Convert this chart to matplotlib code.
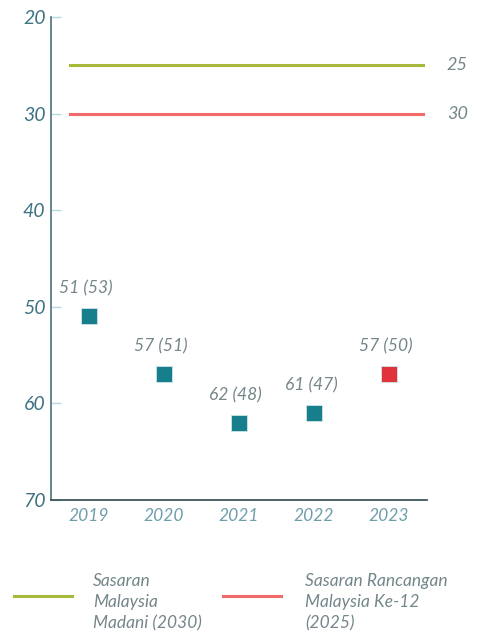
import matplotlib
matplotlib.use("Agg")
import matplotlib.pyplot as plt
from matplotlib.lines import Line2D
from matplotlib.transforms import blended_transform_factory

# Data
years = [2019, 2020, 2021, 2022, 2023]
values = [51, 57, 62, 61, 57]
prev = [53, 51, 48, 47, 50]
colors = ['#167f8b', '#167f8b', '#167f8b', '#167f8b', '#e0323a']
target_madani = 25
target_rmk12 = 30

plt.rcParams['font.family'] = ['Lato', 'DejaVu Sans']
txt = dict(style='italic', weight='normal', color='#74868a')

fig = plt.figure(figsize=(4.78, 6.35), dpi=100)
ax = fig.add_axes([0.1067, 0.2126, 0.7866, 0.7606])

# Garis sasaran
ax.axhline(target_madani, xmin=0.05, xmax=0.99, color='#a8b83b', lw=2.2)
ax.axhline(target_rmk12, xmin=0.05, xmax=0.99, color='#f26a6a', lw=2.2)

trans = blended_transform_factory(ax.transAxes, ax.transData)
for v in [target_madani, target_rmk12]:
    ax.text(1.053, v, str(v), transform=trans, ha='left', va='center',
            fontsize=13, **txt)

# Titik
for x, y, p, c in zip(years, values, prev, colors):
    ax.plot(x, y, marker='s', ms=12, color=c, mec='#cfe6e8', mew=0.6, ls='none')
    ax.annotate(f"{y} ({p})", (x, y), xytext=(-2, 20), textcoords='offset points',
                ha='center', va='center', fontsize=12.5, **txt)

ax.set_xlim(2018.5, 2023.51)
ax.set_ylim(70, 20)
ax.set_yticks([20, 30, 40, 50, 60, 70])
ax.set_xticks(years)

for s in ['top', 'right']:
    ax.spines[s].set_visible(False)
ax.spines['left'].set_color('#4d6f79')
ax.spines['left'].set_linewidth(1.2)
ax.spines['bottom'].set_color('#2f4a4d')
ax.spines['bottom'].set_linewidth(1.2)

ax.tick_params(axis='y', direction='in', length=7, color='#b7dadd', width=1,
               labelsize=14, labelcolor='#3f7384', pad=4)
ax.tick_params(axis='x', length=0, labelsize=12.5, labelcolor='#6e9dab', pad=6)
for lab in ax.get_yticklabels() + ax.get_xticklabels():
    lab.set_style('italic')

# Legenda
fig.add_artist(Line2D([14 / 478, 72 / 478], [1 - 596 / 635] * 2, color='#a8b83b', lw=2.2))
fig.add_artist(Line2D([223 / 478, 281 / 478], [1 - 596 / 635] * 2, color='#f26a6a', lw=2.2))
fig.text(93 / 478, 1 - 602 / 635, "Sasaran\nMalaysia\nMadani (2030)", ha='left', va='center',
         fontsize=12.5, linespacing=1.4, **txt)
fig.text(305 / 478, 1 - 602 / 635, "Sasaran Rancangan\nMalaysia Ke-12\n(2025)", ha='left', va='center',
         fontsize=12.5, linespacing=1.4, **txt)

fig.savefig("out.png", dpi=100)
